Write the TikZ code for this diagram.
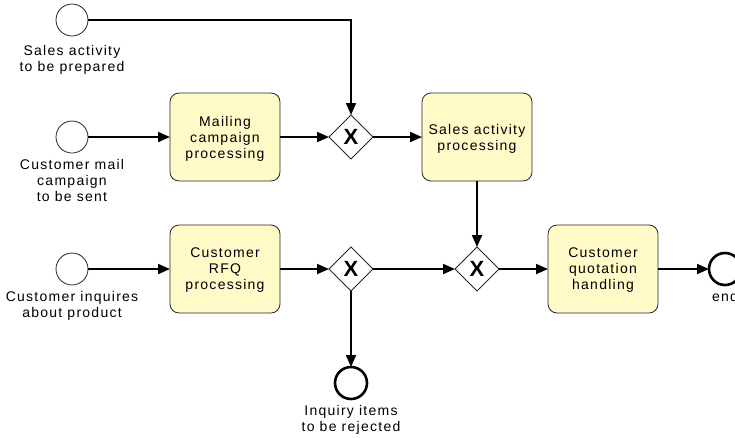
\documentclass[tikz,border=0pt]{standalone}
\usepackage{fontspec}
\setmainfont{Liberation Sans}[LetterSpace=9]
\usepackage{tikz}
\usetikzlibrary{shapes.geometric,arrows.meta,positioning,calc}
\definecolor{taskfill}{RGB}{255,250,200}
\tikzset{
	taskbox/.style={rectangle, draw=black!85, rounded corners=9pt, fill=taskfill,
		minimum width=110pt, minimum height=88pt, align=center, inner sep=2pt, outer sep=0pt,
		text depth=0pt, font=\fontsize{14}{16}\selectfont, line width=0.8pt},
	gatebox/.style={diamond, draw=black!85, fill=white, aspect=1, minimum size=44pt,
		inner sep=0pt, outer sep=0pt, font=\fontsize{22}{22}\selectfont\bfseries, line width=0.8pt},
	startev/.style={circle, draw=black!85, fill=white, minimum size=32pt, inner sep=0pt,
		outer sep=0pt, line width=0.8pt},
	endev/.style={circle, draw=black, fill=white, minimum size=32pt, inner sep=0pt,
		outer sep=0pt, line width=2.6pt},
	evlabel/.style={align=center, font=\fontsize{14}{16}\selectfont, label distance=3pt},
	flowarr/.style={-{Triangle[length=12pt,width=10pt]}, line width=1.9pt}
}
\begin{document}
\begin{tikzpicture}[x=1pt, y=-1pt, node distance=49pt and 49pt]
	\useasboundingbox (0,0) rectangle (735,437);
	\node[startev, label={[evlabel]below:{Customer mail\\campaign\\to be sent}}] (mail) at (72,137) {};
	\node[startev, above=85pt of mail, label={[evlabel, label distance=6pt]below:{Sales activity\\to be prepared}}] (sales) {};
	\node[startev, below=100pt of mail, label={[evlabel]below:{Customer inquires\\about product}}] (inq) {};
	\node[taskbox, right=82pt of mail] (mcp) {Mailing\\campaign\\processing};
	\node[gatebox, right=of mcp] (g1) {X};
	\node[taskbox, right=of g1] (sap) {Sales activity\\processing};
	\node[taskbox, right=82pt of inq] (rfq) {Customer\\RFQ\\processing};
	\node[gatebox, right=of rfq] (g2) {X};
	\node[gatebox] (g3) at (g2 -| sap) {X};
	\node[taskbox, right=of g3] (cqh) {Customer\\quotation\\handling};
	\node[endev, right=51pt of cqh, label={[evlabel]below:{end}}] (fin) {};
	\node[endev, below=76pt of g2, label={[evlabel]below:{Inquiry items\\to be rejected}}] (rej) {};
	\draw[flowarr] (sales) -| (g1);
	\draw[flowarr] (mail) -- (mcp);
	\draw[flowarr] (mcp) -- (g1);
	\draw[flowarr] (g1) -- (sap);
	\draw[flowarr] (sap) -- (g3);
	\draw[flowarr] (inq) -- (rfq);
	\draw[flowarr] (rfq) -- (g2);
	\draw[flowarr] (g2) -- (g3);
	\draw[flowarr] (g3) -- (cqh);
	\draw[flowarr] (cqh) -- (fin);
	\draw[flowarr] (g2) -- (rej);
\end{tikzpicture}
\end{document}
